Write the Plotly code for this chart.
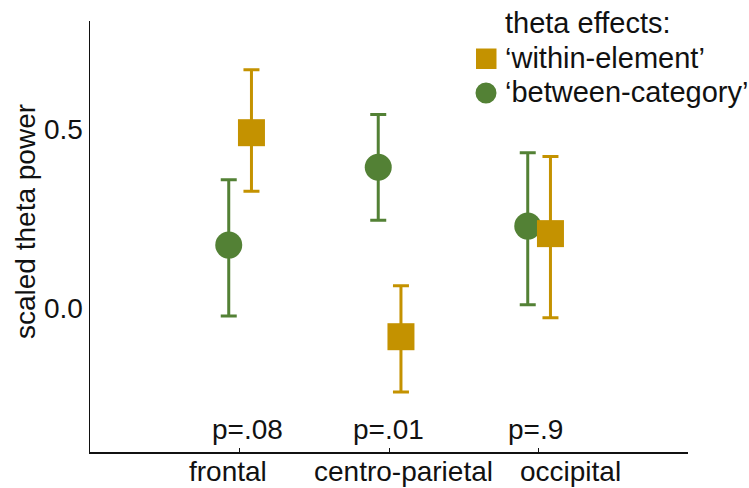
import plotly.graph_objects as go

# ---- data ----
categories = ["frontal", "centro-parietal", "occipital"]
within_mean = [0.489, -0.079, 0.208]
within_upper = [0.664, 0.063, 0.423]
within_lower = [0.326, -0.233, -0.026]
between_mean = [0.176, 0.393, 0.229]
between_upper = [0.358, 0.540, 0.433]
between_lower = [-0.021, 0.245, 0.010]
p_labels = ["p=.08", "p=.01", "p=.9"]
y_tickvals = [0.0, 0.5]
y_ticktext = ["0.0", "0.5"]

GOLD = "#C49200"
GREEN = "#538135"
FONT = "Liberation Sans, Arial, sans-serif"
FS = 28
FS_LEG = 29

idx = list(range(len(categories)))
dodge_between = -0.072
dodge_within = 0.08

# layout geometry (pixels)
W, H = 749, 488
ML, MR, MT, MB = 90, 61, 21, 36
PW = W - ML - MR
PH = H - MT - MB


def px_x(px):
    return (px - ML) / PW


def px_y(py):
    return (H - MB - py) / PH


fig = go.Figure()

fig.add_trace(go.Scatter(
    x=[i + dodge_between for i in idx], y=between_mean, mode="markers",
    name="'between-category'",
    marker=dict(symbol="circle", size=27, color=GREEN),
    error_y=dict(type="data", symmetric=False,
                 array=[u - m for u, m in zip(between_upper, between_mean)],
                 arrayminus=[m - l for m, l in zip(between_mean, between_lower)],
                 color=GREEN, thickness=3, width=8),
    showlegend=False,
))
fig.add_trace(go.Scatter(
    x=[i + dodge_within for i in idx], y=within_mean, mode="markers",
    name="'within-element'",
    marker=dict(symbol="square", size=27, color=GOLD),
    error_y=dict(type="data", symmetric=False,
                 array=[u - m for u, m in zip(within_upper, within_mean)],
                 arrayminus=[m - l for m, l in zip(within_mean, within_lower)],
                 color=GOLD, thickness=3, width=8),
    showlegend=False,
))

annotations = []
# p-value labels
p_shift = [8, -1, -3]
for i, t in enumerate(p_labels):
    annotations.append(dict(x=i, y=-0.337, xref="x", yref="y", text=t,
                            showarrow=False, xshift=p_shift[i],
                            xanchor="center", yanchor="middle",
                            font=dict(family=FONT, size=FS, color="#111")))
# category labels
cat_shift = [-12, 14.5, 32]
for i, t in enumerate(categories):
    annotations.append(dict(x=i, y=px_y(471), xref="x", yref="paper", text=t,
                            showarrow=False, xshift=cat_shift[i],
                            xanchor="center", yanchor="middle",
                            font=dict(family=FONT, size=FS, color="#111")))
# y-axis title
annotations.append(dict(x=px_x(25), y=px_y(222), xref="paper", yref="paper",
                        text="scaled theta power", textangle=-90,
                        showarrow=False, xanchor="center", yanchor="middle",
                        font=dict(family=FONT, size=FS, color="#111")))
# legend (manual)
annotations.append(dict(x=px_x(503), y=px_y(23), xref="paper", yref="paper",
                        text="theta effects:", showarrow=False,
                        xanchor="left", yanchor="middle",
                        font=dict(family=FONT, size=FS_LEG, color="#111")))
annotations.append(dict(x=px_x(503), y=px_y(58), xref="paper", yref="paper",
                        text="\u2018within-element\u2019", showarrow=False,
                        xanchor="left", yanchor="middle",
                        font=dict(family=FONT, size=FS_LEG, color="#111")))
annotations.append(dict(x=px_x(503), y=px_y(92), xref="paper", yref="paper",
                        text="\u2018between-category\u2019", showarrow=False,
                        xanchor="left", yanchor="middle",
                        font=dict(family=FONT, size=FS_LEG, color="#111")))

shapes = [
    dict(type="rect", xref="paper", yref="paper",
         x0=px_x(476), x1=px_x(496.5), y0=px_y(69), y1=px_y(48.5),
         fillcolor=GOLD, line=dict(width=0)),
    dict(type="circle", xref="paper", yref="paper",
         x0=px_x(475.5), x1=px_x(496.5), y0=px_y(103.5), y1=px_y(82.5),
         fillcolor=GREEN, line=dict(width=0)),
]

fig.update_layout(
    width=W, height=H,
    margin=dict(l=ML, r=MR, t=MT, b=MB, autoexpand=False),
    paper_bgcolor="white", plot_bgcolor="white",
    font=dict(family=FONT, size=FS, color="#111"),
    annotations=annotations, shapes=shapes,
    xaxis=dict(range=[-1, 3], tickvals=idx, showticklabels=False,
               ticks="inside", ticklen=4, tickwidth=1, tickcolor="#111",
               showgrid=False, zeroline=False, showline=True,
               linecolor="#111", linewidth=1.5, automargin=False),
    yaxis=dict(range=[-0.4, 0.8], tickvals=y_tickvals, ticktext=y_ticktext,
               ticks="", showgrid=False, zeroline=False, showline=True,
               linecolor="#111", linewidth=1.5, automargin=False,
               tickfont=dict(family=FONT, size=FS, color="#111")),
    showlegend=False,
    hovermode=False,
)

fig.write_html(
    "out.html",
    config={"displayModeBar": False, "staticPlot": True},
    post_script="document.body.style.margin='0';document.body.style.padding='0';",
)
